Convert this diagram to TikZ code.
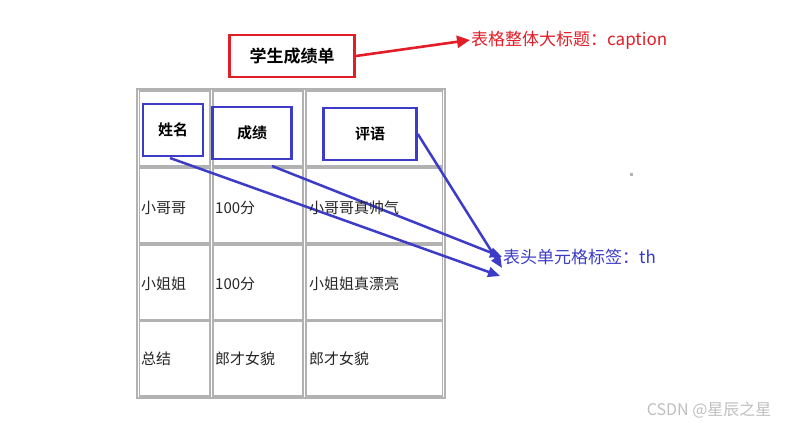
\documentclass[tikz,border=0pt]{standalone}
\usepackage{fontspec}
\newfontfamily\cjk{Noto Sans CJK SC}
\newfontfamily\cjkb{Noto Sans CJK SC Bold}
\usetikzlibrary{arrows.meta}
\definecolor{myred}{RGB}{226,30,40}
\definecolor{myblue}{RGB}{60,60,200}
\tikzset{
 body/.style={font=\cjk\fontsize{15}{15}\selectfont,text=black!85,anchor=west,inner sep=1pt},
 hbox/.style={draw=myblue,line width=2.6pt,fill=white,font=\cjkb\fontsize{15}{15}\selectfont},
 barrow/.style={myblue,line width=2.5pt,-{Triangle[length=12pt,width=10pt]}},
 cellb/.style={gray!60,line width=1.5pt},
}
\begin{document}
\begin{tikzpicture}[x=1pt,y=-1pt]
\useasboundingbox[fill=white] (0,0) rectangle (786,432);
\draw[gray!60,line width=1.5pt] (137,89) rectangle (445,398);
\foreach \y in {91,168,245,321}{
 \draw[cellb] (139.5,\y) rectangle (210,\y+75);
 \draw[cellb] (213,\y) rectangle (303,\y+75);
 \draw[cellb] (306,\y) rectangle (442.5,\y+75);
}
\node[draw=myred,line width=2.6pt,minimum width=125pt,minimum height=42pt,font=\cjkb\fontsize{17}{17}\selectfont] (cap) at (292,56) {学生成绩单};
\node[anchor=west,text=myred,font=\cjk\fontsize{17}{17}\selectfont,inner sep=1pt] (capl) at (470,40) {表格整体大标题：caption};
\draw[myred,line width=2.6pt,-{Triangle[length=13pt,width=12pt]}] (cap.east) -- (capl.west);
\node[hbox,minimum width=60pt,minimum height=52pt] (h1) at (173,130) {姓名};
\node[hbox,minimum width=79pt,minimum height=52pt] (h2) at (252,133) {成绩};
\node[hbox,minimum width=93pt,minimum height=52pt] (h3) at (370,134) {评语};
\node[anchor=west,text=myblue,font=\cjk\fontsize{17}{17}\selectfont,inner sep=1pt] (th) at (502,257) {表头单元格标签：th};
\coordinate (e1) at (500,276);
\draw[barrow] (170,158) -- (e1);
\draw[barrow] (272,166) -- (th.west);
\draw[barrow] (h3.east) -- ([yshift=-11pt]th.west);
\node[body] (a1) at (140,208) {小哥哥};
\node[body] (a2) at (214,208) {100分};
\node[body] (a3) at (308,208) {小哥哥真帅气};
\node[body] (b1) at (140,284) {小姐姐};
\node[body] (b2) at (214,284) {100分};
\node[body] (b3) at (308,284) {小姐姐真漂亮};
\node[body] (c1) at (140,359) {总结};
\node[body] (c2) at (214,359) {郎才女貌};
\node[body] (c3) at (308,359) {郎才女貌};
\node[fill=gray!60,minimum size=3pt,inner sep=0pt] (dot) at (631,174) {};
\node[anchor=east,text=gray!50,font=\cjk\fontsize{16}{16}\selectfont] (wm) at (775,410) {CSDN @星辰之星};
\end{tikzpicture}
\end{document}
